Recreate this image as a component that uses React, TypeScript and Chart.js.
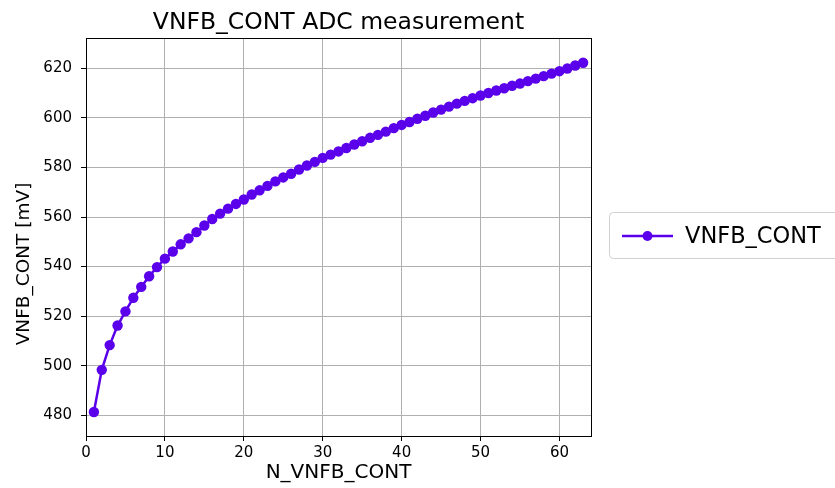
import React, { useEffect, useRef } from "react";
import { Chart, registerables } from "chart.js";

Chart.register(...registerables);

const titleText = "VNFB_CONT ADC measurement";
const xLabel = "N_VNFB_CONT";
const yLabel = "VNFB_CONT [mV]";
const seriesName = "VNFB_CONT";

const nValues = [
  1, 2, 3, 4, 5, 6, 7, 8, 9, 10, 11, 12, 13, 14, 15, 16, 17, 18, 19, 20, 21,
  22, 23, 24, 25, 26, 27, 28, 29, 30, 31, 32, 33, 34, 35, 36, 37, 38, 39, 40,
  41, 42, 43, 44, 45, 46, 47, 48, 49, 50, 51, 52, 53, 54, 55, 56, 57, 58, 59,
  60, 61, 62, 63,
];

const mvValues = [
  481.3, 498.3, 508.3, 516.2, 521.9, 527.4, 531.8, 536.1, 539.8, 543.2,
  546.1, 549.0, 551.4, 553.9, 556.6, 559.2, 561.4, 563.4, 565.3, 567.1,
  569.1, 570.8, 572.6, 574.4, 576.0, 577.5, 579.2, 580.8, 582.3, 583.9,
  585.2, 586.5, 587.9, 589.3, 590.6, 592.0, 593.2, 594.5, 595.9, 597.2,
  598.4, 599.7, 600.9, 602.2, 603.4, 604.6, 605.8, 606.9, 608.0, 609.1,
  610.1, 611.1, 612.0, 613.0, 613.9, 614.9, 615.9, 616.9, 617.9, 618.9,
  620.0, 621.2, 622.3,
];

const xTicks = [0, 10, 20, 30, 40, 50, 60];
const yTicks = [480, 500, 520, 540, 560, 580, 600, 620];

const X_MIN = 0;
const X_MAX = 64;
const Y_MIN = 471.6;
const Y_MAX = 632.3;

const COLOR = "#5a00ea";
const FONT = "'DejaVu Sans', sans-serif";

const decorPlugin = {
  id: "decor",
  afterDraw(chart: any) {
    const ctx = chart.ctx as CanvasRenderingContext2D;
    const a = chart.chartArea;
    ctx.save();
    ctx.strokeStyle = "#000";
    ctx.lineWidth = 1;
    ctx.strokeRect(Math.round(a.left) + 0.5, Math.round(a.top) + 0.5, Math.round(a.right - a.left), Math.round(a.bottom - a.top));
    const cx = (a.left + a.right) / 2;
    ctx.fillStyle = "#000";
    ctx.font = `23.5px ${FONT}`;
    ctx.textAlign = "center";
    ctx.textBaseline = "alphabetic";
    ctx.fillText(titleText, cx, 29);
    ctx.font = `20px ${FONT}`;
    ctx.fillText(xLabel, cx, 478);
    ctx.save();
    ctx.translate(29, 264);
    ctx.rotate(-Math.PI / 2);
    ctx.font = `18.5px ${FONT}`;
    ctx.textAlign = "center";
    ctx.fillText(yLabel, 0, 0);
    ctx.restore();
    const lx = 609.5, ly = 212.5, lw = 240, lh = 46;
    ctx.beginPath();
    const r = 4;
    ctx.moveTo(lx + r, ly);
    ctx.lineTo(lx + lw - r, ly);
    ctx.arcTo(lx + lw, ly, lx + lw, ly + r, r);
    ctx.lineTo(lx + lw, ly + lh - r);
    ctx.arcTo(lx + lw, ly + lh, lx + lw - r, ly + lh, r);
    ctx.lineTo(lx + r, ly + lh);
    ctx.arcTo(lx, ly + lh, lx, ly + lh - r, r);
    ctx.lineTo(lx, ly + r);
    ctx.arcTo(lx, ly, lx + r, ly, r);
    ctx.closePath();
    ctx.fillStyle = "rgba(255,255,255,0.8)";
    ctx.fill();
    ctx.strokeStyle = "#d0d0d0";
    ctx.stroke();
    const my = 236;
    ctx.strokeStyle = COLOR;
    ctx.lineWidth = 2.5;
    ctx.beginPath();
    ctx.moveTo(622, my);
    ctx.lineTo(673, my);
    ctx.stroke();
    ctx.fillStyle = COLOR;
    ctx.beginPath();
    ctx.arc(647.5, my, 5, 0, Math.PI * 2);
    ctx.fill();
    ctx.fillStyle = "#000";
    ctx.font = `22.5px ${FONT}`;
    ctx.textAlign = "left";
    ctx.textBaseline = "middle";
    ctx.fillText(seriesName, 685, my + 1);
    ctx.restore();
  },
};

export default function App() {
  const ref = useRef<HTMLCanvasElement | null>(null);
  useEffect(() => {
    if (!ref.current) return;
    const tickFont = { family: FONT, size: 15 };
    const chart = new Chart(ref.current, {
      type: "line",
      data: {
        datasets: [
          {
            label: seriesName,
            data: nValues.map((n, i) => ({ x: n, y: mvValues[i] })),
            borderColor: COLOR,
            backgroundColor: COLOR,
            borderWidth: 2.5,
            pointRadius: 5.2,
            pointBorderWidth: 0,
            pointBackgroundColor: COLOR,
            tension: 0,
          },
        ],
      },
      options: {
        animation: false,
        responsive: false,
        devicePixelRatio: 1,
        events: [],
        layout: { padding: { top: 38, right: 244, left: 0, bottom: 0 } },
        plugins: { legend: { display: false }, title: { display: false }, tooltip: { enabled: false } },
        scales: {
          x: {
            type: "linear",
            min: X_MIN,
            max: X_MAX,
            afterBuildTicks: (s: any) => {
              s.ticks = xTicks.map((v) => ({ value: v }));
            },
            afterFit: (s: any) => {
              s.height = 52;
            },
            grid: { color: "#b0b0b0", lineWidth: 1, tickColor: "#000", tickLength: 5, drawTicks: true },
            border: { display: true, color: "#000", width: 1 },
            ticks: { font: tickFont, color: "#000", padding: 3, maxRotation: 0, autoSkip: false },
          },
          y: {
            type: "linear",
            min: Y_MIN,
            max: Y_MAX,
            afterBuildTicks: (s: any) => {
              s.ticks = yTicks.map((v) => ({ value: v }));
            },
            afterFit: (s: any) => {
              s.width = 86;
            },
            grid: { color: "#b0b0b0", lineWidth: 1, tickColor: "#000", tickLength: 5, drawTicks: true },
            border: { display: true, color: "#000", width: 1 },
            ticks: { font: tickFont, color: "#000", padding: 9, autoSkip: false },
          },
        },
      },
      plugins: [decorPlugin],
    } as any);
    return () => chart.destroy();
  }, []);
  return (
    <div style={{ position: "fixed", left: 0, top: 0, width: 835, height: 488, background: "#fff" }}>
      <canvas ref={ref} width={835} height={488} style={{ display: "block" }} />
    </div>
  );
}
